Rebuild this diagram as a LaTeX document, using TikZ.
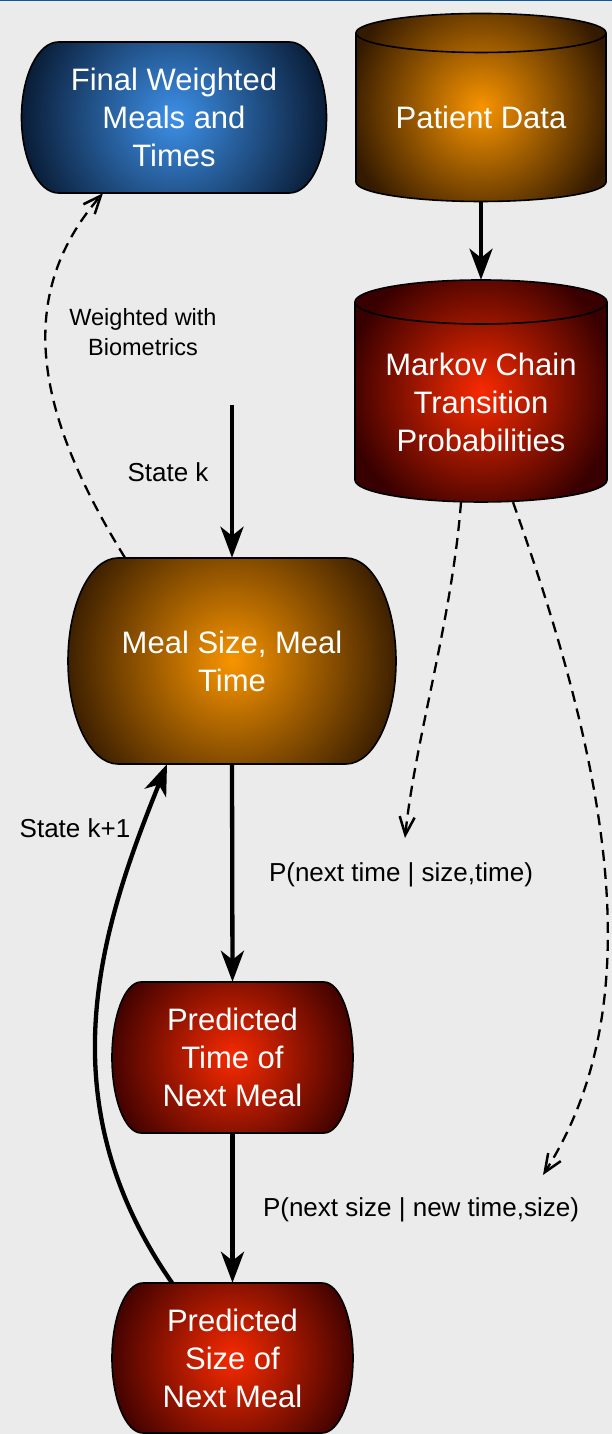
\documentclass[tikz,border=0pt]{standalone}
\usepackage{fontspec}
\setmainfont{Liberation Sans}
\usetikzlibrary{arrows.meta,calc}
\definecolor{bg}{HTML}{EBEBEB}
\definecolor{topblue}{HTML}{0B5A9E}
\definecolor{blueIn}{HTML}{3D90E8}
\definecolor{blueOut}{HTML}{06152B}
\definecolor{orIn}{HTML}{F89400}
\definecolor{orOut}{HTML}{341A00}
\definecolor{redIn}{HTML}{F72A00}
\definecolor{redOut}{HTML}{380000}
\newcommand\pillpath[5]{(#1-#3/2+#5, #2+#4/2) -- (#1+#3/2-#5, #2+#4/2) arc[start angle=90, end angle=-90, x radius=#5, y radius=#4/2] -- (#1-#3/2+#5, #2-#4/2) arc[start angle=270, end angle=90, x radius=#5, y radius=#4/2] -- cycle}
\newcommand\drawpill[7]{%
  \begin{scope}
    \clip \pillpath{#1}{#2}{#3}{#4}{#5};
    \shade[inner color=#6, outer color=#7] (#1-#3/2-10, #2-#3/2-10) rectangle (#1+#3/2+10, #2+#3/2+10);
  \end{scope}
  \draw[outline] \pillpath{#1}{#2}{#3}{#4}{#5};
}
\newcommand\cylpath[5]{(#1-#4, #2) arc[start angle=180, end angle=0, x radius=#4, y radius=#5] -- (#1+#4, #3) arc[start angle=0, end angle=-180, x radius=#4, y radius=#5] -- cycle}
\newcommand\drawcyl[7]{%
  \begin{scope}
    \clip \cylpath{#1}{#2}{#3}{#4}{#5};
    \shade[inner color=#6, outer color=#7] (#1-#4-10, #2/2+#3/2-#4-10) rectangle (#1+#4+10, #2/2+#3/2+#4+10);
  \end{scope}
  \draw[outline] \cylpath{#1}{#2}{#3}{#4}{#5};
  \draw[outline] (#1-#4, #2) arc[start angle=180, end angle=360, x radius=#4, y radius=#5];
}
\tikzset{
  outline/.style={draw=black, line width=1.6pt, line join=round},
  nodetext/.style={text=white, align=center, inner sep=0pt, font=\fontsize{31}{38}\selectfont},
  lab/.style={text=black, align=center, inner sep=0pt, font=\fontsize{26}{31}\selectfont},
  solidarrow/.style={line width=4.3pt, -{Stealth[length=31pt, width=23pt, inset=9pt]}},
  dasharrow/.style={line width=2.3pt, dash pattern=on 11pt off 7pt, -{Straight Barb[length=18pt, width=15pt, line width=2.5pt]}},
}
\begin{document}
\begin{tikzpicture}[x=1pt, y=1pt]
\useasboundingbox (0,0) rectangle (612,1434);
\fill[bg] (0,0) rectangle (612,1434);
\fill[topblue] (0,1432.5) rectangle (612,1434);

% shapes
\drawpill{174}{1316.5}{305}{151}{37}{blueIn}{blueOut}
\drawcyl{481}{1401}{1252}{125}{19.5}{orIn}{orOut}
\drawcyl{481}{1132}{954}{126}{22}{redIn}{redOut}
\drawpill{232}{773}{328}{206}{50}{orIn}{orOut}
\drawpill{232.5}{376.5}{241}{151}{29}{redIn}{redOut}
\drawpill{232.5}{76}{241}{150}{31}{redIn}{redOut}

% text nodes
\node[nodetext, minimum width=305pt, minimum height=151pt] (final) at (174,1316.5) {Final Weighted\\Meals and\\Times};
\node[nodetext, minimum width=250pt, minimum height=169pt] (patient) at (481,1317) {Patient Data};
\node[nodetext, minimum width=252pt, minimum height=200pt] (markov) at (481,1032) {Markov Chain\\Transition\\Probabilities};
\node[nodetext, minimum width=328pt, minimum height=206pt] (meal) at (232,773) {Meal Size, Meal\\Time};
\node[nodetext, minimum width=241pt, minimum height=151pt] (ptime) at (232.5,376.5) {Predicted\\Time of\\Next Meal};
\node[nodetext, minimum width=241pt, minimum height=150pt] (psize) at (232.5,76) {Predicted\\Size of\\Next Meal};

% labels
\node[lab, font=\fontsize{23.5}{30}\selectfont] (wlab) at (143,1102) {Weighted with\\Biometrics};
\node[lab] (sklab) at (168,962) {State k};
\node[lab] (sk1lab) at (75,606) {State k+1};
\node[lab] (p1lab) at (401,559) {P(next time | size,time)};
\node[lab] (p2lab) at (421,224) {P(next size | new time,size)};

% free ends
\coordinate (skstart) at (232,1029);
\coordinate (t1) at (405,596);
\coordinate (t2) at (543,259);

% connectors
\draw[solidarrow] (patient.south) -- ([yshift=22pt]markov.north);
\draw[solidarrow] (skstart) -- (meal.north);
\draw[solidarrow] (meal.south) -- (ptime.north);
\draw[solidarrow] (ptime.south) -- (psize.north);
\draw[solidarrow] ([xshift=-60.5pt]psize.north) .. controls (45,334) and (100,504) .. ([xshift=-65pt]meal.south);
\draw[dasharrow] ([xshift=-107pt]meal.north) .. controls (40,1014) and (10,1134) .. ([xshift=-71pt]final.south);
\draw[dasharrow] ([xshift=-20pt]markov.south) .. controls (452,814) and (415,694) .. (t1);
\draw[dasharrow] ([xshift=32pt]markov.south) .. controls (605,674) and (655,434) .. (t2);
\end{tikzpicture}
\end{document}
